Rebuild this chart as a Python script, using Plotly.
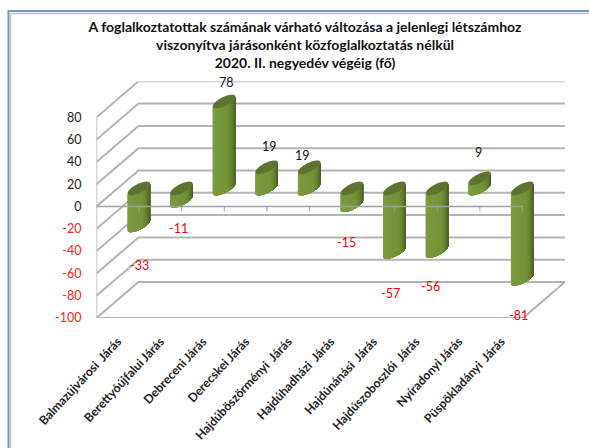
import math
import plotly.graph_objects as go

categories = ["Balmazújvárosi\u00a0 Járás", "Berettyóújfalui Járás", "Debreceni Járás", "Derecskei Járás",
              "Hajdúböszörményi\u00a0 Járás", "Hajdúhadházi\u00a0 Járás", "Hajdúnánási\u00a0 Járás",
              "Hajdúszoboszlói\u00a0 Járás", "Nyíradonyi Járás", "Püspökladányi\u00a0 Járás"]
values = [-33, -11, 78, 19, 19, -15, -57, -56, 9, -81]
y_ticks = [80, 60, 40, 20, 0, -20, -40, -60, -80, -100]
title_lines = ["A foglalkoztatottak számának várható változása a jelenlegi létszámhoz",
               "viszonyítva járásonként közfoglalkoztatás nélkül",
               "2020. II. negyedév végéig (fő)"]

# label offsets from the bar end, in pixels
label_dx = [1, -3, 2, 3, -7, -5, -4, -7, -1, -4]
label_dy = [-40, -28, 19, 21, 12, -37, -41, -36, 26, -37]

W, H = 589, 448
L, R, T, B = 96.5, 24, 81.5, 130
PX_X = 42.6
PX_Y = 1.115
DEPTH_X = 42 / PX_X
DEPTH_Y = 36 / PX_Y
RX = 8 / PX_X
RDX = 8 / PX_X
RDY = 6.9 / PX_Y
FONT = "Lato"
GRID = "#b4b4b4"

x_range = [-0.5, -0.5 + (W - R - L) / PX_X]
y_range = [-100, -100 + (H - B - T) / PX_Y]

fig = go.Figure()


def line(xs, ys, color=GRID, width=2, xaxis="x", yaxis="y"):
    fig.add_trace(go.Scatter(x=xs, y=ys, mode="lines", line=dict(color=color, width=width),
                             hoverinfo="skip", showlegend=False, cliponaxis=False,
                             xaxis=xaxis, yaxis=yaxis))


# page frame on a full-canvas helper subplot
for (x0, y0, x1, y1, c, w) in [(8.5, 11, W, 11, "#6f97c8", 2), (10.5, 13.5, W, 13.5, "#c4c4c4", 1.5),
                               (8.5, 10, 8.5, H, "#6f97c8", 2), (10.5, 13, 10.5, H, "#c4c4c4", 1.5)]:
    line([x0, x1], [y0, y1], color=c, width=w, xaxis="x2", yaxis="y2")

# walls and floor
bx0 = x_range[0] + DEPTH_X
for v in y_ticks:
    line([x_range[0], bx0, x_range[1]], [v, v + DEPTH_Y, v + DEPTH_Y])
line([x_range[0], x_range[0]], [y_ticks[0], y_ticks[-1]], width=1.5)
front_end = x_range[1] - DEPTH_X
line([x_range[0], front_end, x_range[1]], [-100, -100, -100 + DEPTH_Y])


def ellipse(t):
    return RX * math.cos(t) + RDX * math.sin(t), RDY * math.sin(t)


def lerp_color(a, b, f):
    return "#" + "".join(f"{round(a[k] + (b[k] - a[k]) * f):02x}" for k in range(3))


N = 24
LIGHT = (0x80, 0x9e, 0x40)
MID = (0x74, 0x92, 0x38)
DARK = (0x3c, 0x4b, 0x1c)
start = math.radians(225)
steps = 30
for s in range(N):
    u = (s + 0.5) / N
    col = lerp_color(LIGHT, MID, u / 0.6) if u < 0.6 else lerp_color(MID, DARK, ((u - 0.6) / 0.4) ** 1.2)
    t0 = start + math.pi * s / N
    xs, ys = [], []
    for i, v in enumerate(values):
        cx = i + DEPTH_X / 2
        top = max(v, 0) + DEPTH_Y / 2
        bot = min(v, 0) + DEPTH_Y / 2
        # each band runs from its own left edge to the right silhouette; later bands paint over it
        arc = [ellipse(t0 + (start + math.pi - t0) * k / steps) for k in range(steps + 1)]
        xs += [cx + a[0] for a in arc] + [cx + a[0] for a in reversed(arc)] + [cx + arc[0][0], None]
        ys += [top + a[1] for a in arc] + [bot + a[1] for a in reversed(arc)] + [top + arc[0][1], None]
    fig.add_trace(go.Scatter(x=xs, y=ys, mode="none", fill="toself", fillcolor=col,
                             hoverinfo="skip", showlegend=False))

# top caps
xs, ys = [], []
for i, v in enumerate(values):
    cx = i + DEPTH_X / 2
    top = max(v, 0) + DEPTH_Y / 2
    for k in range(49):
        e = ellipse(2 * math.pi * k / 48)
        xs.append(cx + e[0])
        ys.append(top + e[1])
    xs.append(None)
    ys.append(None)
fig.add_trace(go.Scatter(x=xs, y=ys, mode="none", fill="toself", fillcolor="#5f7330",
                         hoverinfo="skip", showlegend=False))

# zero axis with ticks, drawn over the bars
n = len(categories)
line([-0.5, n - 0.5], [0, 0], color="#a0a0a0", width=1.5)
for i in range(1, n + 1):
    line([i - 0.5, i - 0.5], [0, -4.5], color="#a0a0a0", width=1)

annotations = []
for i, v in enumerate(values):
    annotations.append(dict(x=i + DEPTH_X / 2, y=v + DEPTH_Y / 2, xref="x", yref="y", text=str(v),
                            showarrow=False, xshift=label_dx[i], yshift=label_dy[i],
                            font=dict(family=FONT, size=12.5, color="#ff0000" if v < 0 else "#111111")))

ytext = [f'<span style="color:#ff2020">{v}</span>' if v < 0 else str(v) for v in y_ticks]

fig.update_layout(
    width=W, height=H, autosize=False, showlegend=False,
    margin=dict(l=0, r=0, t=0, b=0, pad=0),
    paper_bgcolor="white", plot_bgcolor="rgba(0,0,0,0)",
    title=dict(text="<b>" + "<br>".join(title_lines) + "</b>", x=305 / W, xanchor="center",
               y=1 - 32 / H, yanchor="top", font=dict(family=FONT, size=14, color="#111111")),
    xaxis=dict(domain=[L / W, 1 - R / W], anchor="y", range=x_range, tickmode="array",
               tickvals=list(range(n)), ticktext=categories,
               tickangle=-47, showgrid=False, zeroline=False, showline=False, ticks="",
               ticklabelstandoff=13, automargin=False,
               tickfont=dict(family=FONT, size=12.2, color="#222222", weight="bold")),
    yaxis=dict(domain=[B / H, 1 - T / H], anchor="x", range=y_range, tickmode="array",
               tickvals=y_ticks, ticktext=ytext,
               showgrid=False, zeroline=False, showline=False, ticks="",
               ticklabelstandoff=14, automargin=False,
               tickfont=dict(family=FONT, size=12.5, color="#222222")),
    xaxis2=dict(domain=[0, 1], anchor="y2", range=[0, W], visible=False),
    yaxis2=dict(domain=[0, 1], anchor="x2", range=[H, 0], visible=False),
    annotations=annotations,
)

fig.write_html("out.html", config={"displayModeBar": False},
               post_script="document.body.style.margin='0';document.body.style.overflow='hidden';")
